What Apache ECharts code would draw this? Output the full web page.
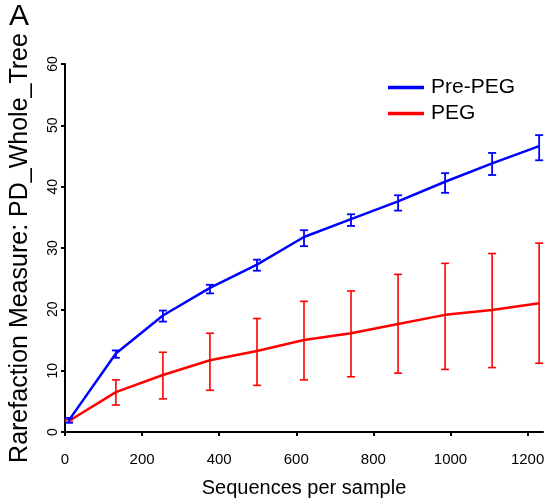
<!DOCTYPE html>
<html>
<head>
<meta charset="utf-8">
<script src="https://cdn.jsdelivr.net/npm/echarts@6/dist/echarts.min.js"></script>
<style>
html,body{margin:0;padding:0;background:#fff;}
#chart{width:548px;height:503px;}
</style>
</head>
<body>
<div id="chart"></div>
<script>
const seqPerSample = [10, 132, 254, 376, 498, 620, 742, 864, 986, 1108, 1230];
const prePegMean = [1.9, 12.8, 19.0, 23.5, 27.3, 31.8, 34.7, 37.6, 40.8, 43.8, 46.6];
const prePegLow  = [1.5, 12.1, 18.0, 22.6, 26.3, 30.3, 33.6, 36.1, 39.0, 41.9, 44.3];
const prePegHigh = [2.3, 13.3, 19.8, 24.0, 28.1, 32.9, 35.5, 38.6, 42.2, 45.5, 48.4];
const pegMean = [1.8, 6.5, 9.3, 11.7, 13.2, 15.0, 16.1, 17.6, 19.1, 19.9, 21.0];
const pegLow  = [1.6, 4.4, 5.4, 6.8, 7.6, 8.5, 9.0, 9.6, 10.2, 10.5, 11.2];
const pegHigh = [2.0, 8.5, 13.0, 16.1, 18.5, 21.3, 23.0, 25.7, 27.5, 29.1, 30.8];
const xTicks = [0, 200, 400, 600, 800, 1000, 1200];

const FONT = 'Liberation Sans, Arial, sans-serif';

function errData(lo, hi) {
  return seqPerSample.map((x, i) => [x, lo[i], hi[i]]);
}
function errRender(color, width) {
  return function (params, api) {
    const x = api.value(0);
    const p1 = api.coord([x, api.value(1)]);
    const p2 = api.coord([x, api.value(2)]);
    const hw = 4;
    const style = { stroke: color, lineWidth: width, fill: null };
    return {
      type: 'group',
      children: [
        { type: 'line', shape: { x1: p1[0], y1: p1[1], x2: p2[0], y2: p2[1] }, style: style },
        { type: 'line', shape: { x1: p1[0] - hw, y1: p1[1], x2: p1[0] + hw, y2: p1[1] }, style: style },
        { type: 'line', shape: { x1: p2[0] - hw, y1: p2[1], x2: p2[0] + hw, y2: p2[1] }, style: style }
      ]
    };
  };
}

const chart = echarts.init(document.getElementById('chart'), null, { renderer: 'canvas' });
chart.setOption({
  animation: false,
  backgroundColor: '#fff',
  title: {
    text: 'A', left: 4, top: -3,
    textStyle: { fontFamily: FONT, fontSize: 30, fontWeight: 'normal', color: '#000' }
  },
  legend: {
    data: ['Pre-PEG', 'PEG'],
    orient: 'vertical',
    left: 388, top: 77,
    padding: 0,
    icon: 'rect',
    itemWidth: 36, itemHeight: 3.5,
    itemGap: 5,
    textStyle: { fontFamily: FONT, fontSize: 21, color: '#000', padding: [0, 0, 0, 2] }
  },
  grid: { left: 65, right: 5, top: 64, bottom: 66, containLabel: false },
  xAxis: {
    type: 'value', min: 0, max: 1240,
    name: 'Sequences per sample', nameLocation: 'middle', nameGap: 46,
    nameTextStyle: { fontFamily: FONT, fontSize: 20, color: '#000' },
    axisLine: { show: true, onZero: false, lineStyle: { color: '#000', width: 2 } },
    axisTick: { show: true, length: 4, lineStyle: { color: '#000', width: 2 }, customValues: xTicks },
    axisLabel: { fontFamily: FONT, fontSize: 15, color: '#000', margin: 20, customValues: xTicks,
      formatter: v => String(v) },
    splitLine: { show: false }
  },
  yAxis: {
    type: 'value', min: 0, max: 60, interval: 10,
    name: 'Rarefaction Measure: PD_Whole_Tree', nameLocation: 'middle', nameGap: 32,
    nameTextStyle: { fontFamily: FONT, fontSize: 25, color: '#000' },
    axisLine: { show: true, lineStyle: { color: '#000', width: 2 } },
    axisTick: { show: true, length: 4, lineStyle: { color: '#000', width: 2 } },
    axisLabel: { fontFamily: FONT, fontSize: 14, color: '#000', rotate: 90, margin: 5 },
    splitLine: { show: false }
  },
  series: [
    {
      name: 'PEG', type: 'line', symbol: 'none', z: 3,
      data: seqPerSample.map((x, i) => [x, pegMean[i]]),
      lineStyle: { color: '#ff0000', width: 2.5 }, itemStyle: { color: '#ff0000' }
    },
    {
      name: 'PEG', type: 'custom', z: 3,
      data: errData(pegLow, pegHigh),
      renderItem: errRender('#ff0000', 1.6),
      encode: { x: 0, y: [1, 2] }
    },
    {
      name: 'Pre-PEG', type: 'line', symbol: 'none', z: 4,
      data: seqPerSample.map((x, i) => [x, prePegMean[i]]),
      lineStyle: { color: '#0000ff', width: 2.5 }, itemStyle: { color: '#0000ff' }
    },
    {
      name: 'Pre-PEG', type: 'custom', z: 4,
      data: errData(prePegLow, prePegHigh),
      renderItem: errRender('#0000ff', 1.8),
      encode: { x: 0, y: [1, 2] }
    }
  ]
});
</script>
</body>
</html>
